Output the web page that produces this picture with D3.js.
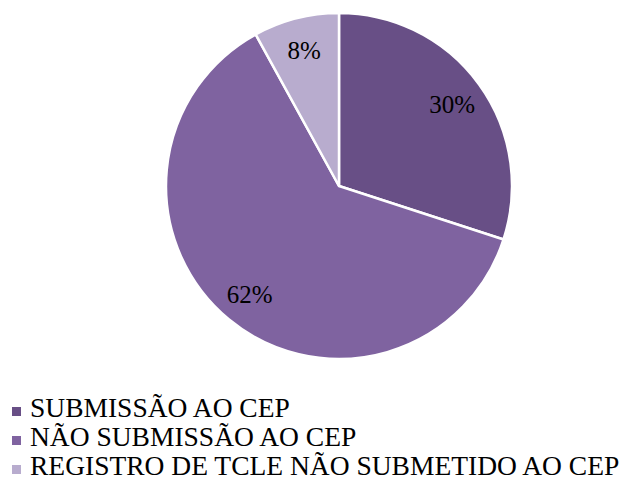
<!DOCTYPE html>
<html>
<head>
<meta charset="utf-8">
<script src="https://cdn.jsdelivr.net/npm/d3@7"></script>
<style>
  text { font-family: 'Liberation Serif', 'Times New Roman', Tinos, serif !important; }
</style>
</head>
<body style="margin:0">
<script>
const categories = ['SUBMISSÃO AO CEP', 'NÃO SUBMISSÃO AO CEP', 'REGISTRO DE TCLE NÃO SUBMETIDO AO CEP'];
const values = [30, 62, 8];
const colors = ['#684f86', '#7f63a0', '#b8acce'];

const W = 626, H = 485;
const cx = 339, cy = 186, R = 173;
const SERIF = "'Liberation Serif', 'Times New Roman', Tinos, serif";

const svg = d3.select('body')
  .append('svg')
  .attr('width', W)
  .attr('height', H)
  .attr('font-family', SERIF);

svg.append('style').text(`text { font-family: ${SERIF} !important; }`);

const data = categories.map((c, i) => ({ label: c, value: values[i] }));

const pie = d3.pie().sort(null).value(d => d.value);
const arc = d3.arc().innerRadius(0).outerRadius(R);
const labelArc = d3.arc().innerRadius(140).outerRadius(140);
const color = d3.scaleOrdinal().domain(categories).range(colors);

const arcs = pie(data);

svg.append('g')
  .attr('transform', `translate(${cx}, ${cy})`)
  .selectAll('path')
  .data(arcs)
  .join('path')
  .attr('d', arc)
  .attr('fill', d => color(d.data.label))
  .attr('stroke', '#fff')
  .attr('stroke-width', 2.5)
  .attr('stroke-linejoin', 'round');

// percentage labels
svg.selectAll('text.pct')
  .data(arcs)
  .join('text')
  .attr('class', 'pct')
  .attr('x', d => cx + labelArc.centroid(d)[0])
  .attr('y', d => cy + labelArc.centroid(d)[1] + 9)
  .attr('text-anchor', 'middle')
  .attr('font-family', SERIF)
  .style('font-family', SERIF, 'important')
  .style('font-size', '25px')
  .text(d => d.data.value + '%');

// legend
svg.selectAll('rect.key')
  .data(categories)
  .join('rect')
  .attr('class', 'key')
  .attr('x', 12)
  .attr('y', (d, i) => 407 + i * 29)
  .attr('width', 9)
  .attr('height', 9)
  .attr('fill', d => color(d));

svg.selectAll('text.key')
  .data(categories)
  .join('text')
  .attr('class', 'key')
  .attr('x', 30)
  .attr('y', (d, i) => 417 + i * 29)
  .attr('font-family', SERIF)
  .style('font-family', SERIF, 'important')
  .style('font-size', '27.5px')
  .text(d => d);
</script>
</body>
</html>
